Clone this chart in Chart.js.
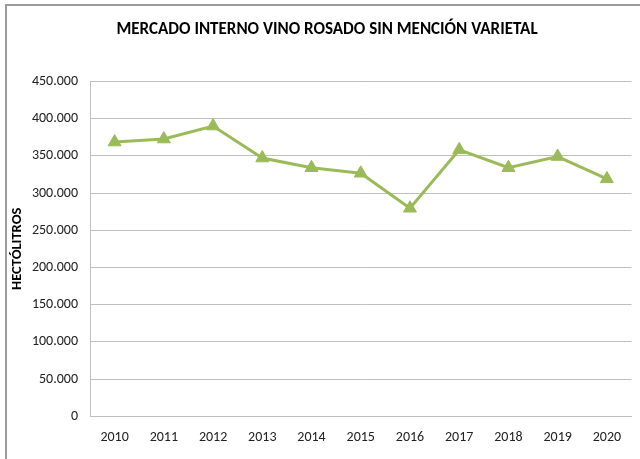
<!DOCTYPE html>
<html>
<head>
<meta charset="utf-8">
<script src="https://cdn.jsdelivr.net/npm/chart.js@4.4.1/dist/chart.umd.min.js"></script>
<style>
  html, body { margin: 0; padding: 0; background: #fff; }
  #wrap { position: relative; width: 640px; height: 459px; overflow: hidden; }
  #frame { position: absolute; left: 5px; top: 4px; width: 700px; height: 500px;
           border-left: 2px solid #9c9c9c; border-top: 2px solid #9c9c9c; pointer-events: none; }
  canvas { position: absolute; left: 0; top: 0; }
</style>
</head>
<body>
<div id="wrap">
  <canvas id="c" width="640" height="459"></canvas>
  <div id="frame"></div>
</div>
<script>
const titleText = 'MERCADO INTERNO VINO ROSADO SIN MENCIÓN VARIETAL';
const yAxisTitle = 'HECTÓLITROS';
const years = ['2010','2011','2012','2013','2014','2015','2016','2017','2018','2019','2020'];
const hectolitros = [368500, 372500, 390000, 347000, 334000, 326500, 279500, 358000, 334000, 349000, 319000];
const yTicks = [0, 50000, 100000, 150000, 200000, 250000, 300000, 350000, 400000, 450000];

const FONT = 'Carlito, "Liberation Sans Narrow", "Open Sans", sans-serif';
function fmt(v) { return String(v).replace(/\B(?=(\d{3})+(?!\d))/g, '.'); }

new Chart(document.getElementById('c'), {
  type: 'line',
  data: {
    labels: years,
    datasets: [{
      data: hectolitros,
      borderColor: '#9BBB59',
      backgroundColor: '#9BBB59',
      borderWidth: 3,
      pointStyle: 'triangle',
      pointRadius: 7.5,
      pointHoverRadius: 7.5,
      pointBorderWidth: 1,
      pointBackgroundColor: '#9BBB59',
      pointBorderColor: '#9BBB59',
      tension: 0
    }]
  },
  options: {
    responsive: false,
    animation: false,
    events: [],
    layout: { padding: { left: 17, right: 3, top: 0, bottom: 0 } },
    plugins: {
      legend: { display: false },
      tooltip: { enabled: false },
      title: {
        display: true,
        text: titleText,
        color: '#000',
        font: { family: FONT, size: 17, weight: 'bold', lineHeight: 1.2 },
        padding: { top: 20, bottom: 41 }
      }
    },
    scales: {
      x: {
        offset: true,
        grid: { display: false, drawTicks: false },
        border: { display: true, color: '#bfbfbf', width: 1 },
        ticks: { color: '#222', font: { family: FONT, size: 14 }, padding: 13, maxRotation: 0 }
      },
      y: {
        min: 0, max: 450000,
        afterBuildTicks: (s) => { s.ticks = yTicks.map(v => ({ value: v })); },
        afterFit: (s) => { s.width = 73; },
        grid: { color: '#bfbfbf', lineWidth: 1, drawTicks: false },
        border: { display: true, color: '#bfbfbf', width: 1 },
        ticks: { color: '#222', font: { family: FONT, size: 14 }, padding: 12, callback: (v) => fmt(v) },
        title: {
          display: true,
          text: yAxisTitle,
          color: '#000',
          font: { family: FONT, size: 14.5, weight: 'bold', lineHeight: 1.2 },
          padding: { top: -8, bottom: 0 }
        }
      }
    }
  }
});
</script>
</body>
</html>
